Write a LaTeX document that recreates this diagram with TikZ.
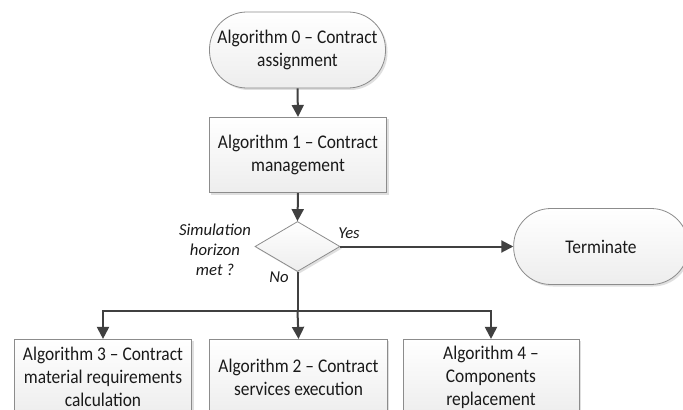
\documentclass[tikz,border=0pt]{standalone}
\usepackage{fontspec}
\setmainfont{Carlito}
\newfontfamily\boxfont[FakeStretch=0.9,Ligatures=TeX]{Carlito}
\usetikzlibrary{shapes.geometric,arrows.meta,shadows}
\definecolor{edgegray}{HTML}{8C8C8C}
\definecolor{linedark}{HTML}{404040}
\definecolor{txt}{HTML}{1A1A1A}
\begin{document}
\begin{tikzpicture}[x=0.75pt,y=-0.75pt,
  boxbase/.style={draw=edgegray, line width=0.6pt, top color=white, bottom color=gray!14,
    drop shadow={shadow xshift=1.5pt, shadow yshift=-1.5pt, opacity=0.25, fill=gray},
    text=txt, align=center, font=\boxfont\fontsize{14.5}{17.3}\selectfont, inner sep=2pt},
  procbox/.style={boxbase, rectangle, minimum width=133pt, minimum height=56.5pt},
  termbox/.style={boxbase, rectangle, rounded corners=28pt, minimum width=132pt, minimum height=57pt},
  decbox/.style={boxbase, diamond, minimum width=63.75pt, minimum height=37.5pt, inner sep=0pt},
  conn/.style={draw=linedark, line width=1.5pt},
  arr/.style={conn, -{Triangle[length=9pt,width=9pt]}},
  lab/.style={text=txt, font=\fontsize{12.5}{15}\selectfont\itshape, align=center, inner sep=0pt}
]
\useasboundingbox (0,0) rectangle (683,410);
\clip (0,0) rectangle (683,410);
\fill[white] (0,0) rectangle (683,410);

\node[termbox] (a0) at (297.5,50) {Algorithm 0 – Contract\\assignment};
\node[procbox] (a1) at (298,155) {Algorithm 1 – Contract\\management};
\node[decbox] (d) at (297.5,246.5) {};
\node[termbox, minimum width=131pt] (term) at (601,246.5) {Terminate};
\node[procbox] (a3) at (103,377) {Algorithm 3 – Contract\\material requirements\\calculation};
\node[procbox] (a2) at (298.5,377) {Algorithm 2 – Contract\\services execution};
\node[procbox, minimum width=132pt] (a4) at (491,377) {Algorithm 4 –\\Components\\replacement};

\node[lab] (q) at (215,250) {Simulation\\horizon\\met ?};
\node[lab] (yes) at (349,233) {Yes};
\node[lab] (no) at (279,277) {No};

\coordinate (j) at (297.5,311);

\draw[arr] (a0.south) -- (a1.north);
\draw[arr] (a1.south) -- (d.north);
\draw[arr] (d.east) -- (term.west);
\draw[conn] (d.south) -- (j);
\draw[arr] (j) -- (a2.north);
\draw[arr] (j) -| (a3.north);
\draw[arr] (j) -| (a4.north);
\end{tikzpicture}
\end{document}
